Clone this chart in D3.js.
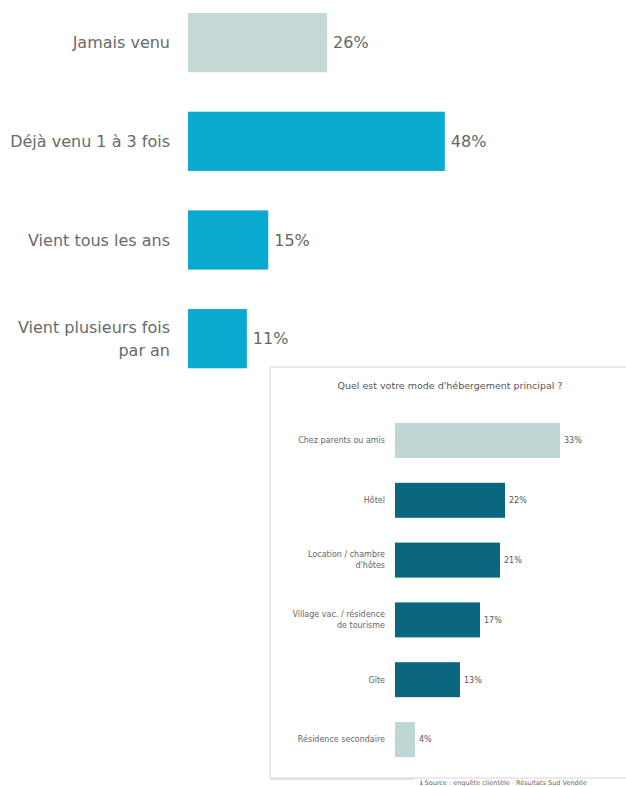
<!DOCTYPE html>
<html><head><meta charset="utf-8">
<script src="https://cdn.jsdelivr.net/npm/d3@7"></script>
<style>
html,body{margin:0;padding:0;background:#fff;}
svg{display:block;}
</style></head>
<body>
<svg id="chart" width="626" height="787"></svg>
<script>
// Main chart data
const mainCategories = ["Jamais venu", "Déjà venu 1 à 3 fois", "Vient tous les ans", "Vient plusieurs fois par an"];
const mainLabelLines = [["Jamais venu"], ["Déjà venu 1 à 3 fois"], ["Vient tous les ans"], ["Vient plusieurs fois", "par an"]];
const mainValues = [26, 48, 15, 11];
const mainHighlight = [false, true, true, true];

// Inset chart data
const insetTitle = "Quel est votre mode d'hébergement principal ?";
const insetCategories = ["Chez parents ou amis", "Hôtel", "Location / chambre d'hôtes", "Village vac. / résidence de tourisme", "Gîte", "Résidence secondaire"];
const insetLabelLines = [["Chez parents ou amis"], ["Hôtel"], ["Location / chambre", "d'hôtes"], ["Village vac. / résidence", "de tourisme"], ["Gîte"], ["Résidence secondaire"]];
const insetValues = [33, 22, 21, 17, 13, 4];
const insetHighlight = [false, true, true, true, true, false];
const footerText = "Source : enquête clientèle · Résultats Sud Vendée";

const svg = d3.select("#chart");

// ---------- Main chart ----------
const mx = d3.scaleLinear().domain([0, 50]).range([188, 455.5]);
const my = d3.scaleBand().domain(mainCategories).range([-6.7, 388]).paddingInner(0.4).paddingOuter(0.2);
const mainColor = d => d ? "#0aa9cf" : "#c5d9d7";

const mg = svg.append("g");
mg.selectAll("rect").data(mainCategories).join("rect")
  .attr("x", mx(0))
  .attr("y", d => my(d))
  .attr("width", (d, i) => mx(mainValues[i]) - mx(0))
  .attr("height", my.bandwidth())
  .attr("fill", (d, i) => mainColor(mainHighlight[i]));

mg.selectAll("text.val").data(mainCategories).join("text")
  .attr("class", "val")
  .attr("x", (d, i) => mx(mainValues[i]) + 6)
  .attr("y", d => my(d) + my.bandwidth() / 2)
  .attr("dy", "0.36em")
  .attr("font-family", "DejaVu Sans, sans-serif")
  .attr("font-size", 16)
  .attr("fill", "#666")
  .text((d, i) => mainValues[i] + "%");

mainCategories.forEach((c, i) => {
  const lines = mainLabelLines[i];
  const cy = my(c) + my.bandwidth() / 2;
  const lh = 23;
  const t = mg.append("text")
    .attr("text-anchor", "end")
    .attr("font-family", "DejaVu Sans, sans-serif")
    .attr("font-size", 16)
    .attr("fill", "#6a6a6a");
  lines.forEach((l, j) => {
    t.append("tspan").attr("x", 170)
      .attr("y", cy + (j - (lines.length - 1) / 2) * lh)
      .attr("dy", "0.36em")
      .text(l);
  });
});

// ---------- Inset panel ----------
const panel = svg.append("g");
panel.append("rect")
  .attr("x", 270).attr("y", 367).attr("width", 362).attr("height", 411)
  .attr("fill", "#fff").attr("stroke", "#e4e4e4").attr("stroke-width", 1.5);

panel.append("text")
  .attr("x", 450).attr("y", 389)
  .attr("text-anchor", "middle")
  .attr("font-family", "DejaVu Sans, sans-serif")
  .attr("font-size", 9.5)
  .attr("fill", "#555")
  .text(insetTitle);

const ix = d3.scaleLinear().domain([0, 40]).range([395, 595]);
const iy = d3.scaleBand().domain(insetCategories).range([410.6, 769.4]).paddingInner(0.415).paddingOuter(0.2075);
const insetColor = d => d ? "#0b6780" : "#bed7d4";

panel.selectAll("rect.bar").data(insetCategories).join("rect")
  .attr("class", "bar")
  .attr("x", ix(0))
  .attr("y", d => iy(d))
  .attr("width", (d, i) => ix(insetValues[i]) - ix(0))
  .attr("height", iy.bandwidth())
  .attr("fill", (d, i) => insetColor(insetHighlight[i]));

panel.selectAll("text.val").data(insetCategories).join("text")
  .attr("class", "val")
  .attr("x", (d, i) => ix(insetValues[i]) + 4)
  .attr("y", d => iy(d) + iy.bandwidth() / 2)
  .attr("dy", "0.36em")
  .attr("font-family", "DejaVu Sans, sans-serif")
  .attr("font-size", 8)
  .attr("fill", "#555")
  .text((d, i) => insetValues[i] + "%");

insetCategories.forEach((c, i) => {
  const lines = insetLabelLines[i];
  const cy = iy(c) + iy.bandwidth() / 2;
  const lh = 11;
  const t = panel.append("text")
    .attr("text-anchor", "end")
    .attr("font-family", "DejaVu Sans, sans-serif")
    .attr("font-size", 8)
    .attr("fill", "#666");
  lines.forEach((l, j) => {
    t.append("tspan").attr("x", 385)
      .attr("y", cy + (j - (lines.length - 1) / 2) * lh)
      .attr("dy", "0.36em")
      .text(l);
  });
});

// footer
svg.append("line").attr("x1", 270).attr("x2", 414).attr("y1", 779).attr("y2", 779)
  .attr("stroke", "#cfcfcf").attr("stroke-width", 1);
svg.append("text").attr("x", 420).attr("y", 785)
  .attr("font-family", "DejaVu Sans, sans-serif").attr("font-size", 6.5)
  .attr("fill", "#666").text("ℹ  " + footerText);
</script>
</body></html>
